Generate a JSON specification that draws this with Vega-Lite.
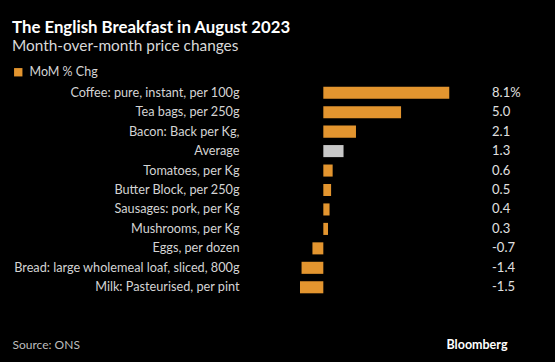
{
  "$schema": "https://vega.github.io/schema/vega-lite/v6.json",
  "autosize": "none",
  "width": 241,
  "height": 214,
  "padding": {"left": 300, "top": 83, "right": 14, "bottom": 65},
  "background": "#000000",
  "title": {
    "text": "The English Breakfast in August 2023",
    "subtitle": "Month-over-month price changes",
    "anchor": "start",
    "frame": "group",
    "dx": -288,
    "offset": 12,
    "font": "Lato",
    "fontSize": 16.8,
    "fontWeight": "bold",
    "color": "#ffffff",
    "subtitleFont": "Lato",
    "subtitleFontSize": 15.4,
    "subtitleColor": "#d9d9d9",
    "subtitlePadding": 2
  },
  "data": {
    "values": [
      {"item": "Coffee: pure, instant, per 100g", "value": 8.1, "series": "MoM % Chg"},
      {"item": "Tea bags, per 250g", "value": 5.0, "series": "MoM % Chg"},
      {"item": "Bacon: Back per Kg,", "value": 2.1, "series": "MoM % Chg"},
      {"item": "Average", "value": 1.3, "series": "Average"},
      {"item": "Tomatoes, per Kg", "value": 0.6, "series": "MoM % Chg"},
      {"item": "Butter Block, per 250g", "value": 0.5, "series": "MoM % Chg"},
      {"item": "Sausages: pork, per Kg", "value": 0.4, "series": "MoM % Chg"},
      {"item": "Mushrooms, per Kg", "value": 0.3, "series": "MoM % Chg"},
      {"item": "Eggs, per dozen", "value": -0.7, "series": "MoM % Chg"},
      {"item": "Bread: large wholemeal loaf, sliced, 800g", "value": -1.4, "series": "MoM % Chg"},
      {"item": "Milk: Pasteurised, per pint", "value": -1.5, "series": "MoM % Chg"}
    ]
  },
  "encoding": {
    "y": {
      "field": "item",
      "type": "nominal",
      "sort": null,
      "scale": {"paddingInner": 0.38, "paddingOuter": 0.19},
      "axis": {
        "title": "Bloomberg",
        "titleAngle": 0,
        "titleAlign": "right",
        "titleBaseline": "alphabetic",
        "titleX": 207,
        "titleY": 265,
        "titleFont": "Lato",
        "titleFontSize": 12.5,
        "titleFontWeight": "bold",
        "titleColor": "#ffffff",
        "ticks": false,
        "domain": false,
        "grid": false,
        "labelPadding": 61,
        "labelFont": "Lato",
        "labelFontSize": 12.7,
        "labelColor": "#d4d4d4",
        "labelLimit": 300
      }
    }
  },
  "layer": [
    {
      "mark": {"type": "bar"},
      "encoding": {
        "x": {
          "field": "value",
          "type": "quantitative",
          "scale": {"domain": [-1.5, 14], "nice": false, "zero": false},
          "axis": {
            "title": "Source: ONS",
            "titleX": -288,
            "titleY": 51,
            "titleAlign": "left",
            "titleAnchor": null,
            "titleBaseline": "alphabetic",
            "titleFont": "Lato",
            "titleFontSize": 12,
            "titleFontWeight": "normal",
            "titleColor": "#bdbdbd",
            "labels": false,
            "ticks": false,
            "domain": false,
            "grid": false
          }
        },
        "x2": {"datum": 0},
        "color": {
          "field": "series",
          "type": "nominal",
          "scale": {"domain": ["MoM % Chg", "Average"], "range": ["#e3952f", "#c8c8c8"]},
          "legend": {
            "values": ["MoM % Chg"],
            "title": null,
            "orient": "none",
            "legendX": -288,
            "legendY": -17,
            "symbolType": "square",
            "symbolSize": 70,
            "symbolOpacity": 1,
            "symbolStrokeWidth": 0,
            "labelFont": "Lato",
            "labelFontSize": 12.5,
            "labelColor": "#d4d4d4",
            "labelOffset": 5
          }
        }
      }
    },
    {
      "transform": [
        {"calculate": "replace(format(datum.value, '.1f'), '\u2212', '-') + (datum.value == 8.1 ? '%' : '')", "as": "label"}
      ],
      "mark": {"type": "text", "align": "left", "baseline": "middle", "font": "Lato", "fontSize": 13, "color": "#e0e0e0"},
      "encoding": {
        "x": {"datum": 10.85, "type": "quantitative"},
        "text": {"field": "label"}
      }
    }
  ],
  "config": {
    "view": {"stroke": null}
  }
}
